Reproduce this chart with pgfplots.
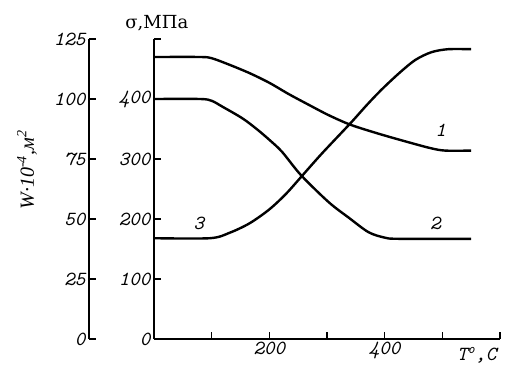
\documentclass[border=0pt]{standalone}
\usepackage{fontspec}
\usepackage{pgfplots}
\pgfplotsset{compat=1.18}
\newfontfamily\labfont{DejaVu Serif}
\newfontfamily\wfont{Liberation Serif}
\newcommand\tf{\ttfamily\itshape\fontsize{20}{20}\selectfont}
\begin{document}
\begin{tikzpicture}[x=1pt,y=1pt]
\useasboundingbox (-154,-31) rectangle (356,339);
\begin{axis}[at={(-65pt,0pt)}, anchor=south west, scale only axis,
  width=10pt, height=300pt, xmin=0, xmax=1, ymin=0, ymax=125,
  axis x line=none, axis y line*=left,
  axis line style={line width=1.6pt},
  tick style={line width=1.2pt, black}, tick align=inside, major tick length=7pt,
  ytick={0,25,...,125},
  yticklabel style={font=\tf},
  /pgf/number format/assume math mode=true]
\end{axis}
\begin{axis}[name=main, at={(0pt,0pt)}, anchor=south west, scale only axis,
  width=346pt, height=300pt,
  xmin=0, xmax=600, ymin=0, ymax=500,
  axis lines*=left,
  axis line style={line width=1.6pt},
  tick style={line width=1.2pt, black}, tick align=inside, major tick length=7pt,
  xtick={100,200,...,600}, xticklabels={,200,,400,,},
  ytick={0,100,...,500}, yticklabels={0,100,200,300,400,},
  ticklabel style={font=\tf},
  /pgf/number format/assume math mode=true,
  clip=false]
\addplot[black, line width=2.4pt, smooth, tension=0.5] coordinates {
(0,470) (80,470) (100,468) (131,457) (166,443) (200,427) (234,408) (269,390) (303,373) (341,357) (390,342) (441,328) (480,318) (505,314) (550,314)};
\addplot[black, line width=2.4pt, smooth, tension=0.5] coordinates {
(0,400) (80,400) (100,397) (119,387) (153,368) (178,350) (200,332) (222,312) (255,273) (303,228) (338,202) (372,178) (400,169) (424,167) (550,167)};
\addplot[black, line width=2.4pt, smooth, tension=0.5] coordinates {
(0,168) (97,168) (131,177) (166,193) (200,216) (229,242) (255,270) (291,309) (341,360) (370,391) (395,416) (425,443) (453,465) (481,478) (510,483) (550,483)};
\node[font=\tf] at (axis cs:497,348) {1};
\node[font=\tf] at (axis cs:488,193) {2};
\node[font=\tf] at (axis cs:78,193) {3};
\node[font=\labfont\fontsize{18}{18}\selectfont, anchor=base] at (axis cs:5,518) {σ,МПа};
\node[font=\tf, anchor=base east] at (axis cs:600,-36) {T\textsuperscript{o},C};
\node[font=\wfont\itshape\fontsize{20}{20}\selectfont, rotate=90] at (axis cs:-220,282) {W·10\textsuperscript{-4},м\textsuperscript{2}};
\end{axis}
\end{tikzpicture}
\end{document}
